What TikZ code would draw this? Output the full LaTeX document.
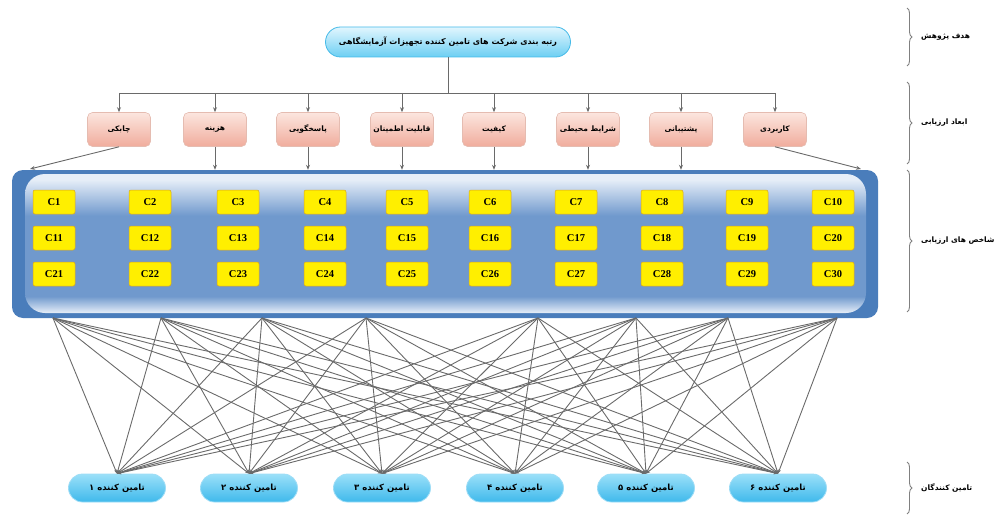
\documentclass[tikz,border=0pt]{standalone}
\usepackage{fontspec}
\setmainfont{Liberation Serif}
\newfontfamily\fa[Script=Arabic]{DejaVu Sans}
\TeXXeTstate=1
\usetikzlibrary{arrows.meta,decorations.pathreplacing,positioning}

\definecolor{goaltop}{HTML}{E2F6FE}
\definecolor{goalbot}{HTML}{6CCFF3}
\definecolor{goalline}{HTML}{45BAE8}
\definecolor{suptop}{HTML}{9BE0F9}
\definecolor{supbot}{HTML}{3FB9EB}
\definecolor{supline}{HTML}{9FDDF6}
\definecolor{dimtop}{HTML}{FCE6DF}
\definecolor{dimbot}{HTML}{F0AC9C}
\definecolor{dimline}{HTML}{E5BCB1}
\definecolor{crityel}{HTML}{FFEF00}
\definecolor{critline}{HTML}{D9A520}
\definecolor{tubeblue}{HTML}{4A7DBB}
\definecolor{tubelt}{HTML}{E6EEF8}
\definecolor{tubemid}{HTML}{7099CD}
\definecolor{linegray}{HTML}{6A6A6A}

\pgfdeclareverticalshading{tube}{100bp}{color(0bp)=(tubelt); color(25bp)=(tubelt);
  color(31bp)=(tubemid); color(60bp)=(tubemid); color(73bp)=(tubelt); color(100bp)=(tubelt)}

\tikzset{
  goalbox/.style={draw=goalline, line width=0.8pt, top color=goaltop, bottom color=goalbot,
    rounded corners=15pt, minimum width=245pt, minimum height=30pt, inner sep=0pt,
    font=\fa\bfseries\fontsize{8}{9}\selectfont},
  dimbox/.style={draw=dimline, line width=0.6pt, top color=dimtop, bottom color=dimbot,
    rounded corners=5pt, minimum width=63pt, minimum height=34pt, inner sep=0pt,
    font=\fa\bfseries\fontsize{7.5}{8}\selectfont},
  critbox/.style={draw=critline, line width=0.5pt, fill=crityel, rounded corners=2pt,
    minimum width=42pt, minimum height=24pt, inner sep=0pt,
    font=\bfseries\fontsize{10.5}{12}\selectfont},
  supbox/.style={draw=supline, line width=0.8pt, top color=suptop, bottom color=supbot,
    rounded corners=14pt, minimum width=97pt, minimum height=28pt, inner sep=0pt,
    font=\fa\bfseries\fontsize{8.5}{9}\selectfont},
  link/.style={draw=linegray, line width=0.9pt},
  sidebrace/.style={draw=gray, line width=0.9pt, decorate,
    decoration={brace, amplitude=5pt}},
  sidelabel/.style={anchor=west, inner sep=0pt, font=\fa\bfseries\fontsize{7.5}{8}\selectfont},
  >={Stealth[length=5pt,width=4pt]}
}

\begin{document}
\begin{tikzpicture}[x=1pt, y=-1pt]
    \useasboundingbox (0,0) rectangle (998,516);

    % goal
    \node[goalbox] (goal) at (448,42) {\beginR رتبه بندی شرکت های تامین کننده تجهیزات آزمایشگاهی\endR};

    % dimensions
    \node[dimbox] (d1) at (119,129.5) {\beginR چابکی\endR};
    \node[dimbox] (d2) at (215,129.5) {\beginR هزینه\endR};
    \node[dimbox] (d3) at (308,129.5) {\beginR پاسخگویی\endR};
    \node[dimbox] (d4) at (402,129.5) {\beginR قابلیت اطمینان\endR};
    \node[dimbox] (d5) at (494,129.5) {\beginR کیفیت\endR};
    \node[dimbox] (d6) at (588,129.5) {\beginR شرایط محیطی\endR};
    \node[dimbox] (d7) at (681,129.5) {\beginR پشتیبانی\endR};
    \node[dimbox] (d8) at (775,129.5) {\beginR کاربردی\endR};

        \coordinate (bus) at (448,93);
    \draw[link](goal) to (bus);
    \draw[link](d1 |- bus) to (d8 |- bus);
    \foreach \i in {1,...,8}
        \draw[link,->](d\i |- bus) to (d\i);

    % criteria tube
    \node[fill=tubeblue, rounded corners=11pt, minimum width=866pt, minimum height=148pt,
        inner sep=0pt] (crit) at (445,244) {};
    \path[shading=tube, rounded corners=20pt] (25,174) rectangle (866,313);

    \foreach \cx [count=\i] in {54,150,238,325,407,490,576,662,747,833} {
        \pgfmathtruncatemacro{\j}{\i+10}
        \pgfmathtruncatemacro{\k}{\i+20}
        \node[critbox] (c\i) at (\cx,202) {C\i};
        \node[critbox] (c\j) at (\cx,238) {C\j};
        \node[critbox] (c\k) at (\cx,274) {C\k};
    }

        \coordinate (tl) at (30,169);
        \coordinate (tr) at (861,169);
    \draw[link,->](d1.south) to (tl);
    \foreach \i in {2,...,7}
        \draw[link,->](d\i) to (d\i |- crit.north);
    \draw[link,->](d8.south) to (tr);

    % suppliers
    \node[supbox] (s1) at (117,488) {\beginR تامین کننده ۱\endR};
    \node[supbox] (s2) at (249,488) {\beginR تامین کننده ۲\endR};
    \node[supbox] (s3) at (382,488) {\beginR تامین کننده ۳\endR};
    \node[supbox] (s4) at (515,488) {\beginR تامین کننده ۴\endR};
    \node[supbox] (s5) at (646,488) {\beginR تامین کننده ۵\endR};
    \node[supbox] (s6) at (778,488) {\beginR تامین کننده ۶\endR};

    \foreach \bx [count=\i] in {53,161,262,366,538,636,728,837}
        \coordinate (b\i) at (\bx,318);
    \foreach \i in {1,...,8}
        \foreach \j in {1,...,6}
            \draw[link,-{Stealth[length=4pt,width=3pt]}](b\i) to (s\j.north);

    % levels
    \draw[sidebrace](907,8) to (907,66);
    \node[sidelabel] (lgoal) at (921,37) {\beginR هدف پژوهش\endR};
    \draw[sidebrace](907,82) to (907,164);
    \node[sidelabel] (ldim) at (921,123) {\beginR ابعاد ارزیابی\endR};
    \draw[sidebrace](907,170) to (907,312);
    \node[sidelabel] (lcrit) at (921,241) {\beginR شاخص های ارزیابی\endR};
    \draw[sidebrace](907,462) to (907,514);
    \node[sidelabel] (lsup) at (921,488) {\beginR تامین کنندگان\endR};
\end{tikzpicture}
\end{document}
